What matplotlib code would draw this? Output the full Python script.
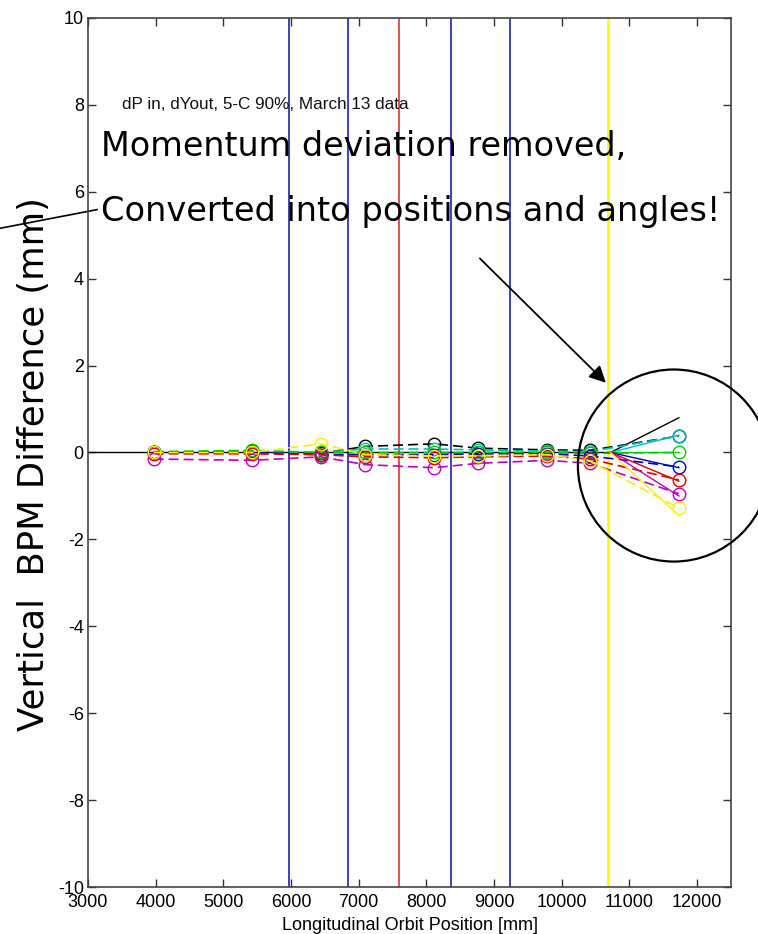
import matplotlib
matplotlib.use("Agg")
import matplotlib.pyplot as plt
from matplotlib.patches import Ellipse
from matplotlib.lines import Line2D
import numpy as np

plt.rcParams["axes.unicode_minus"] = False

# BPM positions along the line [mm]
bpm_s = [3970, 5420, 6440, 7095, 8115, 8760, 9785, 10420, 11730]

# measured vertical BPM differences [mm] (dashed, circles)
dy_black   = [0.00, 0.03, -0.02, 0.14, 0.20, 0.10, 0.06, 0.05, 0.38]
dy_cyan    = [0.00, 0.02, 0.00, 0.08, 0.08, 0.06, 0.03, 0.02, 0.38]
dy_green   = [0.02, 0.05, 0.00, 0.00, 0.00, 0.00, 0.00, -0.02, 0.00]
dy_blue    = [0.00, 0.00, -0.05, -0.05, -0.05, -0.03, -0.03, -0.08, -0.33]
dy_red     = [-0.03, -0.03, -0.05, -0.10, -0.12, -0.10, -0.08, -0.15, -0.63]
dy_magenta = [-0.15, -0.18, -0.10, -0.28, -0.35, -0.25, -0.18, -0.25, -0.95]
dy_yellow  = [0.00, 0.00, 0.20, -0.05, -0.08, -0.08, -0.05, -0.20, -1.28]

# fitted trajectories after the dipole exit (solid)
fit_s = [10720, 11730]
fit_black   = [0.0, 0.80]
fit_cyan    = [0.0, 0.40]
fit_green   = [0.0, 0.00]
fit_blue    = [0.0, -0.35]
fit_red     = [0.0, -0.66]
fit_magenta = [0.0, -1.00]
fit_yellow  = [0.0, -1.45]

# element edges (vertical markers)
quad_s = [5975, 6840, 8370, 9235]
dipole_s = [7600]
exit_s = [10690]

series = [
    ("k", dy_black, fit_black),
    ("c", dy_cyan, fit_cyan),
    ("#00cc00", dy_green, fit_green),
    ("#0000cc", dy_blue, fit_blue),
    ("#dd0000", dy_red, fit_red),
    ("m", dy_magenta, fit_magenta),
    ("#ffee00", dy_yellow, fit_yellow),
]

tick_font = ["Liberation Sans Narrow", "Liberation Sans", "DejaVu Sans"]
big_font = ["DejaVu Sans"]

fig = plt.figure(figsize=(7.58, 9.34), dpi=100)
ax = fig.add_axes([88 / 758, 1 - 887 / 934, (731 - 88) / 758, (887 - 18) / 934])

for s in quad_s:
    ax.axvline(s, color="#2020b0", lw=1.2, zorder=1)
for s in dipole_s:
    ax.axvline(s, color="#e03030", lw=1.2, zorder=1)
for s in exit_s:
    ax.axvline(s, color="#ffff00", lw=2.0, zorder=1)

# reference orbit
ax.plot([3000, fit_s[0]], [0, 0], color="k", lw=1.0, zorder=2)

for col, dy, fit in series:
    ax.plot(bpm_s, dy, color=col, lw=1.2, dashes=(6, 3), marker="o", ms=9,
            mfc="none", mew=1.0, zorder=3)
    ax.plot(fit_s, fit, "-", color=col, lw=1.0, zorder=3)

ax.set_xlim(3000, 12500)
ax.set_ylim(-10, 10)
ax.set_xticks(np.arange(3000, 12001, 1000))
ax.set_yticks(np.arange(-10, 11, 2))
ax.tick_params(direction="in", top=True, right=True, length=6, width=1,
               color="#333333", labelsize=13, pad=3)
ax.tick_params(axis="x", pad=5)
for lab in ax.get_xticklabels() + ax.get_yticklabels():
    lab.set_family(tick_font)
for sp in ax.spines.values():
    sp.set_color("#444444")
    sp.set_linewidth(1.2)

ax.set_xlabel("Longitudinal Orbit Position [mm]", fontsize=13,
              family=tick_font, labelpad=4)

ax.text(3500, 8, "dP in, dYout, 5-C 90%, March 13 data", fontsize=12.3,
        family=["Liberation Sans", "DejaVu Sans"], color="#111111",
        ha="left", va="center")

ax.text(3190, 7.04, "Momentum deviation removed,", fontsize=24,
        family=big_font, ha="left", va="center", zorder=5)
ax.text(3190, 5.55, "Converted into positions and angles!", fontsize=24.2,
        family=big_font, ha="left", va="center", zorder=5)

fig.text(34 / 758, 1 - 464 / 934, "Vertical  BPM Difference (mm)",
         rotation=90, fontsize=25.5, family=big_font, ha="center", va="center")

# pointer from the text to the label
ax.add_line(Line2D([1700, 3133], [5.16, 5.59], color="k", lw=1.2,
                   clip_on=False))

# arrow and circle around the fan-out
ax.annotate("", xy=(10681, 1.56), xytext=(8761, 4.51),
            arrowprops=dict(arrowstyle="-|>", color="k", lw=1.3,
                            mutation_scale=25))
ax.add_patch(Ellipse((11656, -0.3), 2836, 4.42, fill=False, ec="k",
                     lw=1.6, clip_on=False, zorder=6))

fig.savefig("out.png", dpi=100)
